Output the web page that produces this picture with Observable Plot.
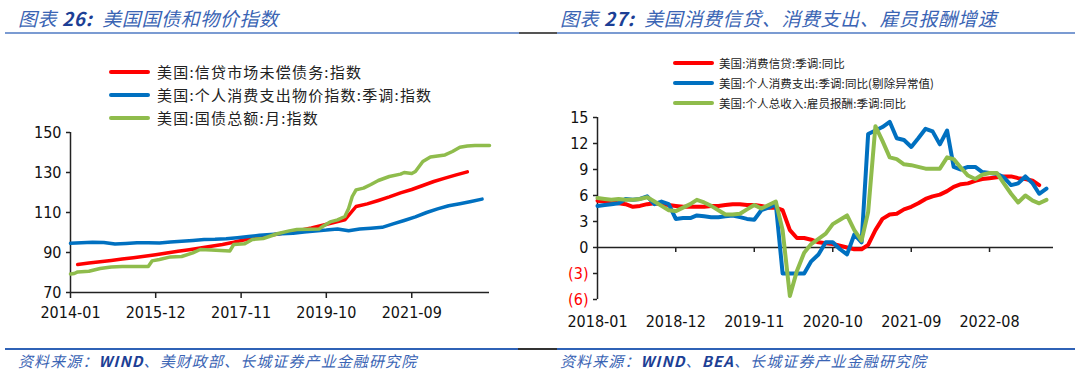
<!DOCTYPE html>
<html><head><meta charset="utf-8">
<script src="https://cdn.jsdelivr.net/npm/d3@7"></script>
<script src="https://cdn.jsdelivr.net/npm/@observablehq/plot@0.6"></script>
<style>
body{margin:0;background:#fff;}
#page{position:relative;width:1080px;height:379px;overflow:hidden;background:#fff;font-family:"Noto Sans CJK SC",sans-serif;}
.title{position:absolute;top:7px;line-height:22px;font-size:19px;font-style:italic;color:#3a64b4;white-space:nowrap;letter-spacing:0.6px;}
.title b{color:#1d3f95;font-weight:bold;}
.rule{position:absolute;height:2px;}
.src{position:absolute;top:352px;line-height:18px;font-size:15px;font-style:italic;color:#3a64b4;white-space:nowrap;letter-spacing:1.1px;}
.src b{color:#1d3f95;font-weight:bold;}
.row{position:absolute;white-space:nowrap;display:flex;align-items:center;color:#222;}
.sw{display:inline-block;height:4px;border-radius:2px;}
.chart{position:absolute;}
.chart svg{overflow:visible;}
</style>
</head><body>
<div id="page">
  <div class="title" style="left:18px">图表 <b>26:</b>&nbsp; 美国国债和物价指数</div>
  <div class="title" style="left:560px">图表 <b>27:</b>&nbsp; 美国消费信贷、消费支出、雇员报酬增速</div>
  <div class="rule" style="left:5px;width:1070px;top:32px;background:#555"></div>
  <div class="rule" style="left:5px;width:514px;top:32px;background:#7b9bd2"></div>
  <div class="rule" style="left:557px;width:518px;top:32px;background:#7b9bd2"></div>
  <div id="legL"></div>
  <div id="legR"></div>
  <div class="chart" id="left" style="left:0;top:120px"></div>
  <div class="chart" id="right" style="left:540px;top:105px"></div>
  <div class="rule" style="left:5px;width:1070px;top:348px;background:#333"></div>
  <div class="rule" style="left:5px;width:513px;top:348px;background:#2f62b6"></div>
  <div class="rule" style="left:557px;width:518px;top:348px;background:#2f62b6"></div>
  <div class="src" style="left:18px">资料来源：<b>WIND</b>、美财政部、长城证券产业金融研究院</div>
  <div class="src" style="left:560px">资料来源：<b>WIND</b>、<b>BEA</b>、长城证券产业金融研究院</div>
</div>
<script>
// ---------- Left chart data ----------
const leftSeriesNames = ["美国:信贷市场未偿债务:指数", "美国:个人消费支出物价指数:季调:指数", "美国:国债总额:月:指数"];
const leftColors = ["#ff0000", "#0070c0", "#8fbc4c"];
const leftXTicks = ["2014-01", "2015-12", "2017-11", "2019-10", "2021-09"];
const leftYTicks = [70, 90, 110, 130, 150];

const creditDates = ["2014-03","2014-06","2014-09","2014-12","2015-03","2015-06","2015-09","2015-12","2016-03","2016-06","2016-09","2016-12","2017-03","2017-06","2017-09","2017-12","2018-03","2018-06","2018-09","2018-12","2019-03","2019-06","2019-09","2019-12","2020-03","2020-06","2020-09","2020-12","2021-03","2021-06","2021-09","2021-12","2022-03","2022-06","2022-09","2022-12"];
const creditValues = [84.0,84.7,85.4,86.0,86.7,87.4,88.1,88.9,89.8,90.6,91.4,92.2,93.1,94.0,95.1,96.4,97.4,98.4,99.3,100.2,101.2,102.3,103.6,105.0,106.3,113.0,114.3,116.0,117.8,119.8,121.5,123.5,125.5,127.2,128.8,130.3];

const pceDates = ["2014-01","2014-04","2014-07","2014-10","2015-01","2015-04","2015-07","2015-10","2016-01","2016-04","2016-07","2016-10","2017-01","2017-04","2017-07","2017-10","2018-01","2018-04","2018-07","2018-10","2019-01","2019-04","2019-07","2019-10","2020-01","2020-04","2020-07","2020-10","2021-01","2021-04","2021-07","2021-10","2022-01","2022-04","2022-07","2022-10","2023-01","2023-04"];
const pceValues = [94.6,94.9,95.1,95.0,94.2,94.5,94.9,94.9,94.8,95.3,95.6,96.0,96.5,96.6,96.9,97.4,98.0,98.6,99.0,99.4,99.6,100.3,100.8,101.2,101.8,100.9,101.7,102.1,102.6,104.3,106.0,107.8,110.0,111.8,113.4,114.4,115.5,116.7];

const debtDates = ["2014-01","2014-02","2014-03","2014-06","2014-09","2014-12","2015-03","2015-10","2015-11","2016-01","2016-04","2016-07","2016-10","2016-12","2017-03","2017-08","2017-09","2017-12","2018-02","2018-05","2018-09","2018-12","2019-02","2019-08","2019-09","2019-11","2020-01","2020-03","2020-04","2020-05","2020-06","2020-08","2020-10","2020-12","2021-03","2021-06","2021-07","2021-09","2021-10","2021-12","2022-02","2022-04","2022-06","2022-08","2022-10","2022-12","2023-02","2023-06"];
const debtValues = [79.2,79.5,80.3,80.6,82.0,82.8,83.0,83.0,85.8,86.5,87.8,88.0,89.8,91.5,91.2,90.8,94.0,94.4,96.5,97.0,99.5,100.8,101.5,101.7,103.0,105.3,106.3,108.0,112.0,118.0,121.3,122.2,124.0,126.0,128.0,129.2,130.0,129.5,130.5,135.5,137.8,138.3,138.8,140.5,142.6,143.2,143.5,143.5];

// ---------- Right chart data (monthly from 2018-01) ----------
const rightSeriesNames = ["美国:消费信贷:季调:同比", "美国:个人消费支出:季调:同比(剔除异常值)", "美国:个人总收入:雇员报酬:季调:同比"];
const rightColors = ["#ff0000", "#0070c0", "#8fbc4c"];
const rightStart = "2018-01";
const rightXTicks = ["2018-01", "2018-12", "2019-11", "2020-10", "2021-09", "2022-08"];
const rightYTicksPos = [0, 3, 6, 9, 12, 15];
const rightYTicksNeg = [-3, -6];

const consumerCredit = [5.4,5.3,5.2,5.1,5.0,4.7,4.8,5.0,5.1,5.0,4.9,4.8,4.7,4.7,4.7,4.7,4.8,4.8,4.9,5.0,5.0,4.9,4.9,4.8,4.6,4.6,4.3,2.0,1.1,1.1,0.9,0.6,0.5,0.4,0.2,0.0,-0.2,-0.2,0.3,2.0,3.3,3.8,3.9,4.4,4.7,5.1,5.6,5.9,6.1,6.5,7.0,7.3,7.4,7.7,7.9,8.0,8.1,8.2,8.2,8.0,7.9,7.7,7.2];
const consumption = [4.8,4.9,5.0,5.1,5.6,5.5,5.6,5.9,5.0,5.3,5.0,3.3,3.4,3.4,3.7,3.6,3.5,3.5,3.6,3.7,3.5,3.3,3.2,4.3,4.6,5.0,-3.0,-3.0,-3.0,-3.0,-1.6,-0.8,0.6,0.6,-0.2,-0.8,1.5,0.6,13.1,13.5,13.9,14.5,12.6,12.4,11.6,12.6,13.7,13.4,11.9,13.5,9.3,9.0,9.3,9.3,8.7,8.6,8.5,8.1,7.2,7.4,8.2,7.4,6.2,6.8];
const compensation = [5.7,5.6,5.5,5.6,5.5,5.5,5.6,5.8,5.3,4.8,4.3,4.2,4.6,5.0,5.5,5.2,4.8,4.3,3.8,3.8,3.9,4.4,4.9,4.5,4.9,5.3,2.0,-5.6,-2.7,-0.6,0.4,1.0,1.6,2.7,3.2,3.7,2.0,0.8,4.1,14.0,12.3,10.4,10.2,9.6,9.5,9.3,9.1,9.1,9.1,10.4,10.2,9.2,8.3,7.9,8.4,8.6,8.6,7.4,6.2,5.2,6.0,5.4,5.1,5.5];

// ---------- helpers ----------
const parse = d3.utcParse("%Y-%m");
const fmt = d3.utcFormat("%Y-%m");
const tickFont = "'DejaVu Sans Condensed','DejaVu Sans',sans-serif";

function legend(id, names, colors, opts) {
  const el = document.getElementById(id);
  names.forEach((n, i) => {
    const r = document.createElement("div");
    r.className = "row";
    r.style.left = opts.left + "px";
    r.style.top = (opts.top + i * opts.step) + "px";
    r.style.fontSize = opts.fontSize + "px";
    r.style.letterSpacing = opts.ls + "px";
    r.style.height = opts.step + "px";
    r.innerHTML = `<span class="sw" style="width:${opts.sw}px;background:${colors[i]};margin-right:${opts.gap}px"></span><span>${n}</span>`;
    el.appendChild(r);
  });
}
legend("legL", leftSeriesNames, leftColors, {left: 109, top: 60, step: 23, fontSize: 15, ls: 1.2, sw: 41, gap: 7});
legend("legR", rightSeriesNames, rightColors, {left: 673, top: 53, step: 20, fontSize: 11.5, ls: 0.1, sw: 41, gap: 5});

// ---------- Left chart ----------
const credit = creditDates.map((d, i) => ({date: parse(d), v: creditValues[i]}));
const pce = pceDates.map((d, i) => ({date: parse(d), v: pceValues[i]}));
const debt = debtDates.map((d, i) => ({date: parse(d), v: debtValues[i]}));

const leftPlot = Plot.plot({
  width: 540, height: 210,
  marginLeft: 70, marginRight: 51, marginTop: 12, marginBottom: 38,
  style: {fontFamily: tickFont, fontSize: "16px", color: "#111", background: "transparent", fontStretch: "condensed"},
  x: {type: "utc", domain: [parse("2014-01"), parse("2023-06")]},
  y: {domain: [70, 150]},
  marks: [
    Plot.axisY({ticks: leftYTicks, tickSize: 4, tickPadding: 5, label: null, stroke: "#222", strokeWidth: 1.5}),
    Plot.axisX({ticks: leftXTicks.map(parse), tickFormat: fmt, tickSize: 6, tickPadding: 8, label: null, stroke: "#222", strokeWidth: 1.5}),
    Plot.ruleX([parse("2014-01")], {stroke: "#222", strokeWidth: 1.5}),
    Plot.ruleY([70], {stroke: "#222", strokeWidth: 1.5}),
    Plot.line(credit, {x: "date", y: "v", stroke: leftColors[0], strokeWidth: 3.5}),
    Plot.line(pce, {x: "date", y: "v", stroke: leftColors[1], strokeWidth: 3.5}),
    Plot.line(debt, {x: "date", y: "v", stroke: leftColors[2], strokeWidth: 3.5})
  ]
});
document.getElementById("left").appendChild(leftPlot);

// ---------- Right chart ----------
const start = parse(rightStart);
const mk = arr => arr.map((v, i) => ({date: d3.utcMonth.offset(start, i), v}));
const rRed = mk(consumerCredit), rBlue = mk(consumption), rGreen = mk(compensation);
const rTicks = rightXTicks.map(parse);

const rightPlot = Plot.plot({
  width: 540, height: 226,
  marginLeft: 57, marginRight: 27, marginTop: 12, marginBottom: 32,
  style: {fontFamily: tickFont, fontSize: "16px", color: "#111", background: "transparent", fontStretch: "condensed"},
  x: {type: "utc", domain: [start, parse("2023-05")]},
  y: {domain: [-6, 15]},
  marks: [
    Plot.axisY({ticks: rightYTicksPos, tickSize: 4, tickPadding: 5, label: null, stroke: "#222", strokeWidth: 1.5}),
    Plot.axisY({ticks: rightYTicksNeg, tickSize: 4, tickPadding: 5, label: null, stroke: "#222", strokeWidth: 1.5, fill: "#ff0000", tickFormat: d => `(${-d})`}),
    Plot.axisX({ticks: rTicks, tickFormat: fmt, tickSize: 0, tickPadding: 16, label: null}),
    Plot.ruleX([start], {stroke: "#222", strokeWidth: 1.5}),
    Plot.ruleY([0], {stroke: "#222", strokeWidth: 1.5}),
    Plot.ruleX(rTicks.slice(1), {x: d => d, y1: 0, y2: 0, insetBottom: -5, stroke: "#222", strokeWidth: 1.5}),
    Plot.line(rRed, {x: "date", y: "v", stroke: rightColors[0], strokeWidth: 4}),
    Plot.line(rBlue, {x: "date", y: "v", stroke: rightColors[1], strokeWidth: 4}),
    Plot.line(rGreen, {x: "date", y: "v", stroke: rightColors[2], strokeWidth: 4})
  ]
});
document.getElementById("right").appendChild(rightPlot);
</script>
</body></html>
